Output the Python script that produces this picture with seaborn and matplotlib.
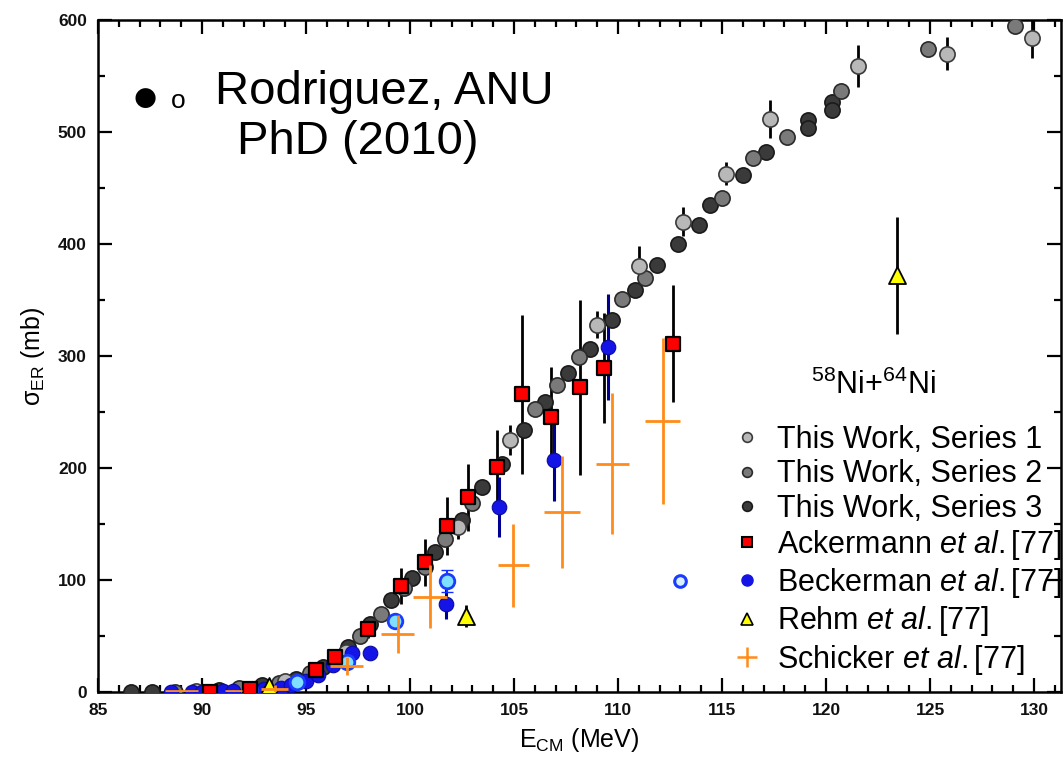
import matplotlib
matplotlib.use("Agg")
import matplotlib.pyplot as plt
from matplotlib.lines import Line2D
from matplotlib.ticker import MultipleLocator
import pandas as pd
import seaborn as sns

# This Work, Series 1 (light grey, with error bars)
s1_e = [89.7, 94.0, 96.9, 102.3, 104.8, 108.97, 111.0, 113.1, 115.2, 117.3, 121.55, 125.8, 129.9]
s1_sig = [1, 10, 36, 147, 225, 328, 380, 420, 463, 512, 559, 570, 584]
s1_err = [1, 2, 3, 10, 13, 12, 18, 13, 10, 17, 19, 15, 18]

# This Work, Series 2 (medium grey)
s2_e = [88.7, 91.8, 93.7, 95.2, 96.4, 97.6, 98.6, 99.7, 100.7, 101.7, 103.0, 106.0,
        107.05, 108.1, 110.2, 111.3, 115.0, 116.5, 118.1, 120.7, 124.9, 129.1]
s2_sig = [0, 4, 8, 17, 31, 50, 70, 93, 112, 137, 169, 253,
          274, 299, 351, 370, 441, 477, 496, 537, 574, 595]

# This Work, Series 3 (dark grey)
s3_e = [86.6, 87.6, 90.8, 92.9, 94.5, 95.8, 97.0, 98.1, 99.1, 100.1, 101.2, 102.5,
        103.45, 104.4, 105.5, 106.5, 107.6, 108.65, 109.7, 110.8, 111.85, 112.9,
        113.9, 114.4, 116.0, 117.1, 119.15, 119.15, 120.3, 120.3]
s3_sig = [0, 0, 2, 6, 12, 22, 40, 61, 82, 102, 125, 154,
          183, 204, 234, 259, 285, 306, 332, 359, 381, 400,
          417, 435, 462, 482, 511, 504, 527, 520]

# Ackermann et al.
ack_e = [90.4, 92.3, 95.5, 96.4, 98.0, 99.55, 100.7, 101.8, 102.8, 104.2,
         105.37, 106.76, 108.17, 109.33, 112.66]
ack_sig = [0, 3, 20, 31, 56, 95, 116, 148, 174, 201, 266, 246, 272, 289, 311]
ack_err = [1, 2, 5, 5, 8, 16, 21, 26, 30, 33, 71, 44, 78, 49, 52]

# Beckerman et al. (filled)
bec_e = [88.5, 89.5, 90.0, 91.0, 91.5, 92.5, 93.0, 93.8, 94.3, 95.0, 95.6, 96.3,
         97.2, 98.1, 101.75, 104.3, 106.9, 109.5]
bec_sig = [0, 0, 0, 1, 1, 2, 3, 4, 6, 10, 15, 24, 35, 35, 79, 165, 207, 308]
bec_err = [0, 0, 0, 0, 0, 1, 1, 1, 1, 2, 2, 3, 3, 3, 14, 27, 36, 47]

# Beckerman et al. (open, light blue)
bec2_e = [92.3, 94.55, 96.95, 99.3, 101.76]
bec2_sig = [2, 9, 27, 63, 99]
bec2_err = [2, 5, 4, 4, 10]
bec3_e = [113.0]
bec3_sig = [99]

# Rehm et al.
rehm_e = [93.2, 102.7, 123.4]
rehm_sig = [5, 68, 372]
rehm_err = [3, 10, 52]

# Schicker et al.
sch_e = [89.0, 91.5, 93.5, 96.96, 99.4, 100.96, 104.97, 107.3, 109.73, 112.14]
sch_sig = [0.5, 1, 3, 23, 52, 85, 113, 161, 204, 242]
sch_xerr = [0.8, 0.4, 0.65, 0.8, 0.8, 0.8, 0.75, 0.85, 0.8, 0.85]
sch_yerr = [1, 1, 3, 8, 17, 28, 37, 50, 63, 74]

legend_labels = [
    "This Work, Series 1",
    "This Work, Series 2",
    "This Work, Series 3",
    r"Ackermann $\it{et\ al.}$[77]",
    r"Beckerman $\it{et\ al.}$[77]",
    r"Rehm $\it{et\ al.}$[77]",
    r"Schicker $\it{et\ al.}$[77]",
]

sns.set_theme(style="ticks")
plt.rcParams["font.family"] = ["Liberation Sans", "DejaVu Sans"]
plt.rcParams["mathtext.fontset"] = "custom"
plt.rcParams["mathtext.rm"] = "Liberation Sans"
plt.rcParams["mathtext.it"] = "Liberation Sans:italic"
plt.rcParams["mathtext.bf"] = "Liberation Sans:bold"
plt.rcParams["text.color"] = "black"
plt.rcParams["axes.labelcolor"] = "black"

fig = plt.figure(figsize=(10.63, 7.73), dpi=100)
ax = fig.add_axes([0.0922, 0.1048, 0.906, 0.8692])

s1 = pd.DataFrame({"E": s1_e, "sig": s1_sig})
s2 = pd.DataFrame({"E": s2_e, "sig": s2_sig})
s3 = pd.DataFrame({"E": s3_e, "sig": s3_sig})
ack = pd.DataFrame({"E": ack_e, "sig": ack_sig})
bec = pd.DataFrame({"E": bec_e, "sig": bec_sig})
bec2 = pd.DataFrame({"E": bec2_e, "sig": bec2_sig})
bec3 = pd.DataFrame({"E": bec3_e, "sig": bec3_sig})
rehm = pd.DataFrame({"E": rehm_e, "sig": rehm_sig})

# error bars first
ax.errorbar(s1_e, s1_sig, yerr=s1_err, fmt="none", ecolor="black", elinewidth=2, zorder=2)
ax.errorbar(ack_e, ack_sig, yerr=ack_err, fmt="none", ecolor="black", elinewidth=2, zorder=3)
ax.errorbar(bec_e, bec_sig, yerr=bec_err, fmt="none", ecolor="#000090", elinewidth=2.2, zorder=3)
ax.errorbar(bec2_e, bec2_sig, yerr=bec2_err, fmt="none", ecolor="#1030ff", elinewidth=1.5,
            capsize=4, zorder=3)
ax.errorbar(rehm_e, rehm_sig, yerr=rehm_err, fmt="none", ecolor="black", elinewidth=2, zorder=3)

sns.scatterplot(data=s3, x="E", y="sig", ax=ax, s=120, color="#3a3a3a", edgecolor="#1a1a1a",
                linewidth=1.2, legend=False, zorder=4)
sns.scatterplot(data=s2, x="E", y="sig", ax=ax, s=120, color="#7a7a7a", edgecolor="#2a2a2a",
                linewidth=1.2, legend=False, zorder=4)
sns.scatterplot(data=s1, x="E", y="sig", ax=ax, s=120, color="#b8b8b8", edgecolor="#3a3a3a",
                linewidth=1.2, legend=False, zorder=4)
sns.scatterplot(data=bec, x="E", y="sig", ax=ax, s=110, color="#1414e6", edgecolor="#0a0aa0",
                linewidth=0.8, legend=False, zorder=5)
sns.scatterplot(data=bec2, x="E", y="sig", ax=ax, s=110, color="#7fe0ff", edgecolor="#1a3cff",
                linewidth=2, legend=False, zorder=5)
sns.scatterplot(data=bec3, x="E", y="sig", ax=ax, s=70, color="#d8f0ff", edgecolor="#1a3cff",
                linewidth=2.2, legend=False, zorder=5)
sns.scatterplot(data=ack, x="E", y="sig", ax=ax, s=110, marker="s", color="#ff0000",
                edgecolor="black", linewidth=1.6, legend=False, zorder=6)
sns.scatterplot(data=rehm, x="E", y="sig", ax=ax, s=150, marker="^", color="#ffff00",
                edgecolor="black", linewidth=1.3, legend=False, zorder=6)

ax.errorbar(sch_e, sch_sig, xerr=sch_xerr, yerr=sch_yerr, fmt="none", ecolor="#ff8c1a",
            elinewidth=2, zorder=7)

ax.set_xlim(85, 131.3)
ax.set_ylim(0, 600)
ax.xaxis.set_major_locator(MultipleLocator(5))
ax.xaxis.set_minor_locator(MultipleLocator(1))
ax.yaxis.set_major_locator(MultipleLocator(100))
ax.yaxis.set_minor_locator(MultipleLocator(50))
ax.tick_params(which="both", direction="in", top=True, right=True, width=1.6, color="black",
               labelcolor="#111111")
ax.tick_params(which="major", length=10, labelsize=12.5, pad=8)
ax.tick_params(which="minor", length=5)
for lab in ax.get_xticklabels() + ax.get_yticklabels():
    lab.set_fontweight("bold")
for sp in ax.spines.values():
    sp.set_linewidth(1.8)
    sp.set_color("black")

ax.set_xlabel(r"E$_{\rm CM}$ (MeV)", fontsize=18, labelpad=6)
ax.set_ylabel(r"σ$_{\rm ER}$ (mb)", fontsize=18, labelpad=8)

handles = [
    Line2D([], [], ls="none", marker="o", ms=7, mfc="#b8b8b8", mec="#3a3a3a", mew=1.2),
    Line2D([], [], ls="none", marker="o", ms=7, mfc="#7a7a7a", mec="#2a2a2a", mew=1.2),
    Line2D([], [], ls="none", marker="o", ms=7, mfc="#3a3a3a", mec="#1a1a1a", mew=1.2),
    Line2D([], [], ls="none", marker="s", ms=7, mfc="#ff0000", mec="black", mew=1.5),
    Line2D([], [], ls="none", marker="o", ms=8, mfc="#1414e6", mec="#1414e6"),
    Line2D([], [], ls="none", marker="^", ms=8, mfc="#ffff00", mec="black", mew=1.2),
    Line2D([], [], ls="none", marker="+", ms=14, mec="#ff8c1a", mew=1.8),
]
leg = ax.legend(handles, legend_labels, loc="upper left",
                bbox_to_anchor=(0.645, 0.42), frameon=False, fontsize=22,
                handlelength=0.8, handletextpad=0.6, labelspacing=0.14, borderpad=0)

ax.text(0.805, 0.457, r"$^{58}$Ni+$^{64}$Ni", transform=ax.transAxes, fontsize=22,
        ha="center", va="center")
ax.text(0.049, 0.884, "\u25cf", transform=ax.transAxes, fontsize=19, ha="center", va="center",
        family="DejaVu Sans")
ax.text(0.083, 0.879, "o", transform=ax.transAxes, fontsize=19, ha="center", va="center")
ax.text(0.121, 0.893, "Rodriguez, ANU", transform=ax.transAxes, fontsize=34, ha="left", va="center")
ax.text(0.144, 0.818, "PhD (2010)", transform=ax.transAxes, fontsize=34, ha="left", va="center")

fig.savefig("out.png", dpi=100)
